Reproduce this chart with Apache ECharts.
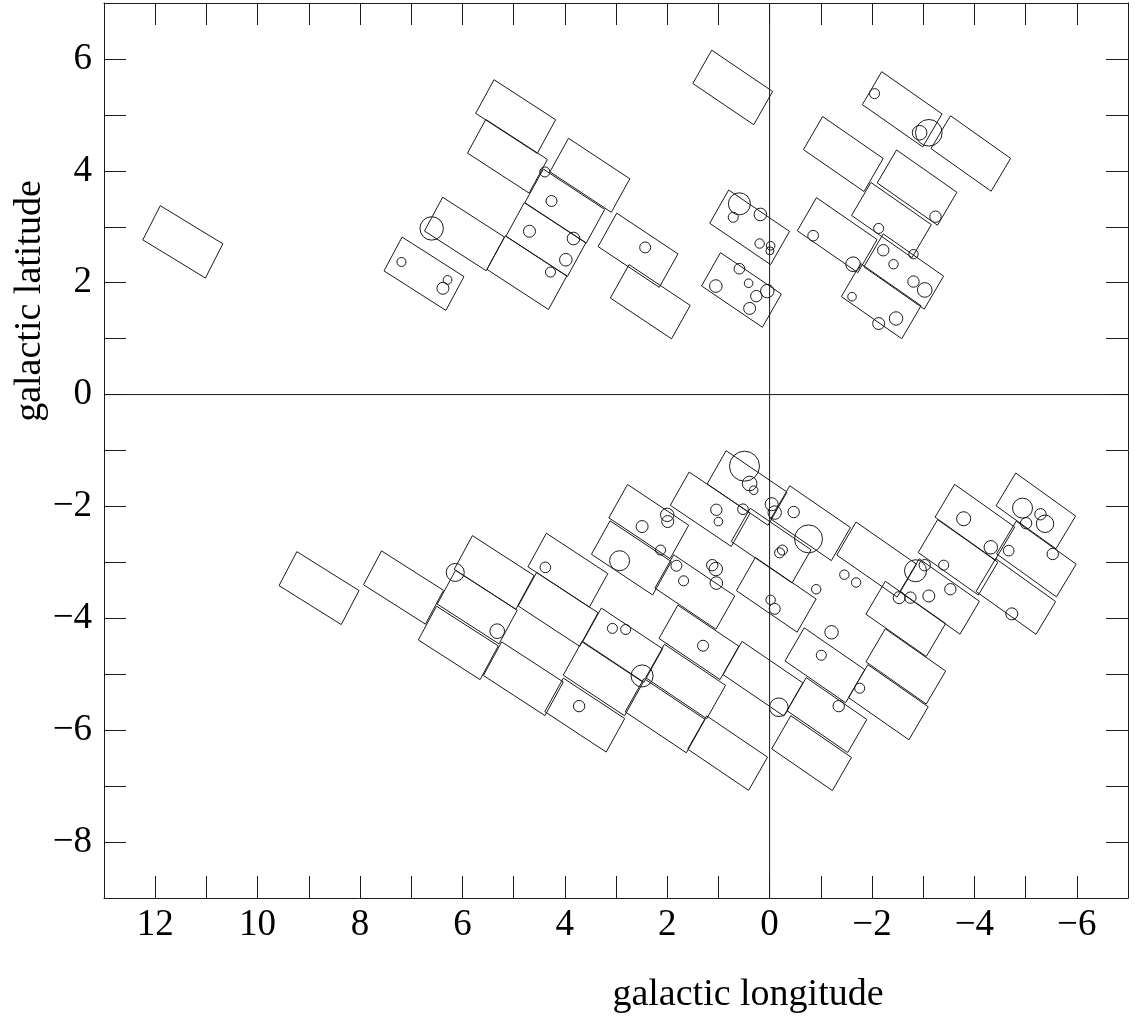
<!DOCTYPE html>
<html><head><meta charset="utf-8">
<script src="https://cdn.jsdelivr.net/npm/echarts@6/dist/echarts.min.js"></script>
<style>html,body{margin:0;padding:0;background:#fff}#c{width:1135px;height:1024px}</style>
</head><body><div id="c"></div>
<script>
// field centres (galactic l, b in degrees)
const fieldL = [11.46,4.96,5.12,3.51,4.00,4.37,4.74,5.96,6.75,2.57,2.33,0.72,0.39,0.55,-2.59,-3.93,-1.44,-2.88,-2.38,-1.32,-2.62,-2.18,
  8.80,7.15,5.38,5.71,6.08,3.94,4.13,4.81,0.44,1.16,2.36,2.70,1.46,2.87,3.25,3.61,1.64,2.04,0.82,1.38,0.13,
  -0.80,-2.09,-4.01,-5.20,-3.68,-5.21,-4.81,-3.32,-2.66,-2.66,-2.32,-1.12,-0.82,-1.08,-0.03,-0.13];
const fieldB = [2.73,4.97,4.26,3.92,3.37,2.77,2.18,2.87,2.16,2.58,1.66,5.49,2.99,1.87,5.10,4.31,4.30,3.70,3.12,2.85,2.20,1.67,
  -3.46,-3.45,-3.18,-3.80,-4.44,-3.14,-3.84,-5.08,-1.67,-2.05,-2.27,-2.92,-3.53,-4.48,-5.08,-5.73,-5.13,-5.74,-6.41,-4.43,-5.08,
  -2.30,-2.95,-2.28,-2.08,-2.91,-2.94,-3.61,-3.61,-4.01,-4.86,-5.50,-5.73,-6.41,-4.84,-2.70,-3.58];
// events (l, b, circle radius in degrees)
const eventL = [7.19,6.29,6.38,6.60,4.39,4.26,4.69,3.83,3.98,4.28,2.43,0.59,0.71,0.18,0.195,-0.02,-0.006,0.59,1.05,0.41,0.26,0.045,0.39,
  -2.05,-3.11,-2.93,-3.24,-2.13,-2.81,-0.85,-1.63,-2.22,-2.42,-2.81,-3.03,-1.61,-2.13,-2.47,
  0.49,0.39,0.31,1.04,1.0,0.52,2.0,1.99,2.49,2.13,2.93,1.82,1.68,1.12,1.05,1.04,-0.04,-0.10,-0.47,-0.76,-0.25,-0.195,-0.02,-0.10,
  -0.91,-1.21,-1.01,-1.76,-1.35,-0.18,-1.46,-1.69,-2.85,-3.03,-3.40,-2.53,-2.75,-3.11,-3.53,-3.79,-4.32,-4.67,-5.53,-4.73,-4.94,-5.29,-5.38,-5.01,
  6.14,5.32,4.38,3.07,2.81,1.30,2.49,3.72];
const eventB = [2.37,2.05,1.90,2.97,3.98,3.46,2.92,2.79,2.41,2.19,2.63,3.41,3.17,3.22,2.70,2.66,2.57,2.25,1.94,1.99,1.76,1.85,1.54,
  5.38,4.68,4.68,3.18,2.97,2.51,2.84,2.33,2.58,2.33,2.02,1.87,1.75,1.27,1.36,
  -1.28,-1.59,-1.71,-2.06,-2.27,-2.05,-2.15,-2.27,-2.36,-2.78,-2.97,-3.06,-3.33,-3.05,-3.12,-3.37,-1.96,-2.11,-2.10,-2.58,-2.78,-2.83,-3.67,-3.83,
  -3.48,-4.25,-4.66,-5.25,-5.57,-5.59,-3.22,-3.36,-3.15,-3.05,-3.05,-3.63,-3.63,-3.60,-3.48,-2.22,-2.73,-2.79,-2.85,-3.92,-2.03,-2.14,-2.31,-2.30,
  -3.18,-4.23,-3.09,-4.18,-4.20,-4.49,-5.03,-5.57];
const eventR = [0.088,0.085,0.117,0.229,0.098,0.107,0.117,0.123,0.123,0.098,0.107,0.215,0.098,0.123,0.092,0.084,0.078,0.104,0.123,0.084,0.111,0.131,0.117,
  0.098,0.26,0.143,0.111,0.098,0.092,0.104,0.143,0.111,0.092,0.111,0.143,0.084,0.117,0.131,
  0.293,0.143,0.084,0.111,0.084,0.104,0.131,0.117,0.117,0.098,0.195,0.107,0.098,0.111,0.131,0.123,0.127,0.131,0.111,0.273,0.098,0.098,0.092,0.107,
  0.092,0.131,0.098,0.098,0.111,0.182,0.092,0.092,0.215,0.111,0.098,0.117,0.111,0.117,0.111,0.137,0.131,0.104,0.111,0.117,0.195,0.111,0.17,0.111,
  0.176,0.143,0.104,0.098,0.098,0.107,0.215,0.111];
const xTickLabels = [12,10,8,6,4,2,0,-2,-4,-6];
const yTickLabels = [6,4,2,0,-2,-4,-6,-8];

const FIELD_LONG = 1.40, FIELD_SHORT = 0.70;
const fmt = v => String(v).replace('-', '\u2212');
const serif = '"Liberation Serif","Times New Roman",serif';
const lineCol = '#1a1a1a';

const chart = echarts.init(document.getElementById('c'), null, {renderer:'canvas'});
const axisCommon = {
  type:'value', interval:1, splitLine:{show:false},
  axisLine:{show:true, onZero:false, lineStyle:{color:lineCol, width:1}},
  axisTick:{show:true, inside:true, length:22, lineStyle:{color:lineCol, width:1}}
};
function xAx(pos, labels){
  return Object.assign({}, axisCommon, {position:pos, inverse:true, min:-7, max:13,
    axisLabel:{show:labels, interval:0, margin:9, color:'#000', fontFamily:serif, fontSize:37,
      formatter:v => xTickLabels.includes(v) ? fmt(v) : ''}});
}
function yAx(pos, labels){
  return Object.assign({}, axisCommon, {position:pos, min:-9, max:7,
    axisLabel:{show:labels, interval:0, margin:12, color:'#000', fontFamily:serif, fontSize:37,
      formatter:v => yTickLabels.includes(v) ? fmt(v) : ''}});
}
const fields = fieldL.map((l,i)=>[l, fieldB[i]]);
const events = eventL.map((l,i)=>[l, eventB[i], eventR[i]]);

chart.setOption({
  animation:false,
  backgroundColor:'#fff',
  grid:{left:104, top:3, width:1024, height:895, show:false},
  xAxis:[xAx('bottom', true), xAx('top', false)],
  yAxis:[yAx('left', true), yAx('right', false)],
  graphic:[
    {type:'text', x:30, y:301, rotation:Math.PI/2,
     style:{text:'galactic latitude', font:'38px '+serif, fill:'#000', align:'center', verticalAlign:'middle', textAlign:'center', textVerticalAlign:'middle'}},
    {type:'text', x:748, y:995,
     style:{text:'galactic longitude', font:'38px '+serif, fill:'#000', align:'center', verticalAlign:'middle', textAlign:'center', textVerticalAlign:'middle'}}
  ],
  series:[
    {type:'line', data:[[0,-9],[0,7]], symbol:'none', lineStyle:{color:lineCol, width:1}, silent:true},
    {type:'line', data:[[13,0],[-7,0]], symbol:'none', lineStyle:{color:lineCol, width:1}, silent:true},
    {type:'custom', data:fields, silent:true,
     renderItem(params, api){
       const l = api.value(0), b = api.value(1);
       const th = (32 - 0.25*l) * Math.PI/180;
       const hl = FIELD_LONG/2, hs = FIELD_SHORT/2;
       const Lx = -Math.cos(th)*hl, Ly = -Math.sin(th)*hl;
       const Sx = Math.sin(th)*hs, Sy = -Math.cos(th)*hs;
       const pts = [[l-Lx-Sx, b-Ly-Sy],[l+Lx-Sx, b+Ly-Sy],[l+Lx+Sx, b+Ly+Sy],[l-Lx+Sx, b-Ly+Sy]].map(p=>api.coord(p));
       return {type:'polygon', shape:{points:pts}, style:{fill:null, stroke:lineCol, lineWidth:1}};
     }},
    {type:'custom', data:events, silent:true,
     renderItem(params, api){
       const c = api.coord([api.value(0), api.value(1)]);
       const r = api.size([api.value(2), 0])[0];
       return {type:'circle', shape:{cx:c[0], cy:c[1], r:r}, style:{fill:null, stroke:lineCol, lineWidth:1}};
     }}
  ]
});
</script></body></html>
